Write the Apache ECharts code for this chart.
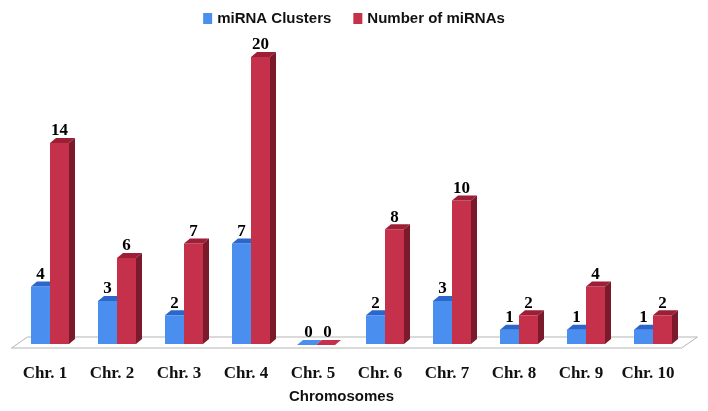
<!DOCTYPE html>
<html>
<head>
<meta charset="utf-8">
<script src="https://cdn.jsdelivr.net/npm/echarts@6/dist/echarts.min.js"></script>
<style>
html,body{margin:0;padding:0;background:#fff;}
#chart{width:708px;height:411px;}
</style>
</head>
<body>
<div id="chart"></div>
<script>
var categories = ['Chr. 1','Chr. 2','Chr. 3','Chr. 4','Chr. 5','Chr. 6','Chr. 7','Chr. 8','Chr. 9','Chr. 10'];
var clusters = [4, 3, 2, 7, 0, 2, 3, 1, 1, 1];
var mirnas = [14, 6, 7, 20, 0, 8, 10, 2, 4, 2];
var seriesNames = ['miRNA Clusters', 'Number of miRNAs'];

var DX = 6, DY = 5;
var palettes = [
  {front: '#4a8ff0', top: '#2a66cc', side: '#2a5cb0'},
  {front: '#c5304b', top: '#9c1f36', side: '#7a1a2b'}
];

function makeRender(si) {
  var pal = palettes[si];
  return function (params, api) {
    var idx = api.value(0), val = api.value(1);
    var catW = api.size([1, 0])[0];
    var bw = catW * 19 / 67;
    var base = api.coord([idx, 0]);
    var top = api.coord([idx, val]);
    var x0 = base[0] + (si === 0 ? -bw : 0);
    var x1 = x0 + bw;
    var yb = base[1], yt = top[1];
    if (val === 0) {
      return {type: 'group', children: [
        {type: 'polygon', shape: {points: [[x0 - 2, yt + 1], [x1 - 2, yt + 1], [x1 + DX - 2, yt - DY + 1], [x0 + DX - 2, yt - DY + 1]]}, style: {fill: pal.front}},
        {type: 'text', style: {text: String(val), x: (x0 + x1) / 2, y: yt - 11, align: 'center', verticalAlign: 'middle', font: 'bold 17px "Liberation Serif", serif', fill: '#000'}}
      ]};
    }
    return {type: 'group', children: [
      {type: 'rect', shape: {x: x0, y: yt, width: bw, height: yb - yt}, style: {fill: pal.front}},
      {type: 'polygon', shape: {points: [[x0, yt], [x1, yt], [x1 + DX, yt - DY], [x0 + DX, yt - DY]]}, style: {fill: pal.top}},
      {type: 'polygon', shape: {points: [[x1, yt], [x1 + DX, yt - DY], [x1 + DX, yb - DY], [x1, yb]]}, style: {fill: pal.side}},
      {type: 'text', style: {text: String(val), x: (x0 + x1) / 2, y: yt - 12, align: 'center', verticalAlign: 'middle', font: 'bold 17px "Liberation Serif", serif', fill: '#000'}}
    ]};
  };
}

function floorRender(params, api) {
  var catW = api.size([1, 0])[0];
  var a = api.coord([0, 0]);
  var b = api.coord([categories.length - 1, 0]);
  var left = a[0] - catW / 2 - 5;
  var right = b[0] + catW / 2 - 5;
  var yf = a[1] + 4, ybk = a[1] - 7;
  return {type: 'polygon', shape: {points: [[left, yf], [right, yf], [right + 16, ybk], [left + 16, ybk]]},
    style: {fill: '#fff', stroke: '#b5b5b5', lineWidth: 1}};
}

var data0 = clusters.map(function (v, i) { return [i, v]; });
var data1 = mirnas.map(function (v, i) { return [i, v]; });

var chart = echarts.init(document.getElementById('chart'));
chart.setOption({
  animation: false,
  backgroundColor: '#fff',
  legend: {
    top: 6, left: 'center',
    itemWidth: 9, itemHeight: 11, itemGap: 22,
    icon: 'rect',
    textStyle: {fontFamily: 'Liberation Sans, Arial, sans-serif', fontWeight: 'bold', fontSize: 15, color: '#111'},
    data: seriesNames
  },
  grid: {left: 16.5, right: 21.5, top: 57, bottom: 67, containLabel: false, outerBoundsMode: 'none'},
  xAxis: {
    type: 'category', data: categories,
    axisLine: {show: false}, axisTick: {show: false}, splitLine: {show: false},
    axisLabel: {interval: 0, margin: 21, padding: [0, 10, 0, 0], fontFamily: 'Liberation Serif, serif', fontWeight: 'bold', fontSize: 17, color: '#111'},
    name: 'Chromosomes', nameLocation: 'middle', nameGap: 45,
    nameTextStyle: {fontFamily: 'Liberation Sans, Arial, sans-serif', fontWeight: 'bold', fontSize: 15, color: '#111', padding: [0, 20, 0, 0]}
  },
  yAxis: {type: 'value', min: 0, max: 20, show: false},
  series: [
    {type: 'custom', name: '_floor', renderItem: floorRender, data: [[0, 0]], silent: true, z: 1},
    {type: 'custom', name: seriesNames[0], renderItem: makeRender(0), data: data0, itemStyle: {color: palettes[0].front}, z: 2},
    {type: 'custom', name: seriesNames[1], renderItem: makeRender(1), data: data1, itemStyle: {color: palettes[1].front}, z: 3}
  ]
});
</script>
</body>
</html>
